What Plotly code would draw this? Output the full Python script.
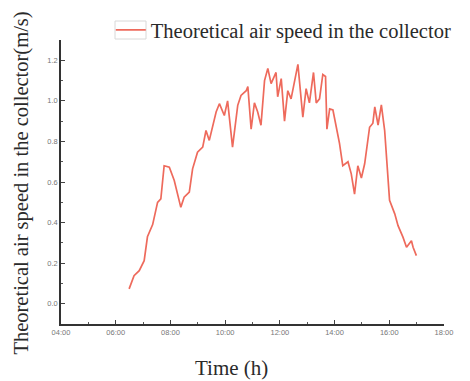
import plotly.graph_objects as go

# Time in hours (decimal) and theoretical air speed (m/s)
time_h = [6.49, 6.67, 6.86, 7.04, 7.16, 7.35, 7.53, 7.65, 7.77, 7.96, 8.14, 8.38, 8.50, 8.69,
          8.81, 8.99, 9.18, 9.30, 9.42, 9.67, 9.79, 9.97, 10.09, 10.27, 10.46, 10.58, 10.77,
          10.83, 10.95, 11.07, 11.19, 11.31, 11.44, 11.56, 11.68, 11.86, 11.92, 12.05, 12.17,
          12.29, 12.41, 12.66, 12.84, 12.96, 13.08, 13.23, 13.33, 13.45, 13.57, 13.67, 13.72,
          13.82, 13.94, 14.06, 14.18, 14.30, 14.49, 14.61, 14.73, 14.85, 14.98, 15.10, 15.28,
          15.40, 15.47, 15.59, 15.71, 15.83, 16.01, 16.20, 16.32, 16.50, 16.63, 16.81, 16.87, 16.99]
speed = [0.073, 0.138, 0.163, 0.212, 0.33, 0.39, 0.50, 0.517, 0.68, 0.673, 0.607, 0.475, 0.525, 0.55,
         0.665, 0.747, 0.772, 0.854, 0.805, 0.945, 0.986, 0.928, 1.0, 0.772, 0.978, 1.027, 1.05,
         1.07, 0.86, 0.99, 0.945, 0.88, 1.10, 1.16, 1.085, 1.14, 1.02, 1.11, 0.90,
         1.05, 1.01, 1.18, 0.92, 1.06, 0.99, 1.14, 0.99, 1.01, 1.13, 1.12, 0.86,
         0.96, 0.955, 0.87, 0.79, 0.68, 0.70, 0.64, 0.54, 0.68, 0.62, 0.69, 0.87,
         0.89, 0.97, 0.88, 0.98, 0.855, 0.51, 0.443, 0.385, 0.328, 0.278, 0.31, 0.278, 0.237]

x_tickvals = [4, 6, 8, 10, 12, 14, 16, 18]
x_ticktext = ["04:00", "06:00", "08:00", "10:00", "12:00", "14:00", "16:00", "18:00"]
y_tickvals = [0.0, 0.2, 0.4, 0.6, 0.8, 1.0, 1.2]
y_ticktext = ["0.0", "0.2", "0.4", "0.6", "0.8", "1.0", "1.2"]

serif = "Liberation Serif, Times New Roman, serif"

fig = go.Figure()
fig.add_trace(go.Scatter(
    x=time_h, y=speed, mode="lines",
    name="Theoretical air speed in the collector",
    line=dict(color="#ee6a5c", width=1.7),
))

axis_common = dict(
    showline=True, linecolor="#333333", linewidth=1.5, mirror=False,
    ticks="inside", ticklen=4, tickwidth=1, tickcolor="#444444",
    showgrid=False, zeroline=False, automargin=False,
    tickfont=dict(family="Liberation Sans, Arial, sans-serif", size=7.5, color="#777777"),
    minor=dict(ticks="inside", ticklen=2, tickwidth=1, tickcolor="#555555"),
)

fig.update_xaxes(range=[4, 18], tickvals=x_tickvals, ticktext=x_ticktext,
                 minor_dtick=1, **axis_common)
fig.update_yaxes(range=[-0.1, 1.3], tickvals=y_tickvals, ticktext=y_ticktext,
                 minor_dtick=0.1, **axis_common)

fig.update_layout(
    width=470, height=381,
    margin=dict(l=61, r=26, t=40, b=57, autoexpand=False),
    paper_bgcolor="white", plot_bgcolor="white",
    showlegend=True,
    legend=dict(x=0.13, y=1.035, xanchor="left", yanchor="middle",
                font=dict(family=serif, size=20.5, color="#2a2a2a"),
                bgcolor="rgba(0,0,0,0)", itemwidth=30),
    shapes=[
        dict(type="rect", xref="paper", yref="paper",
             x0=(115 - 61) / 383, x1=(146 - 61) / 383,
             y0=(324 - 39) / 284, y1=(324 - 21) / 284,
             line=dict(color="#d8d8d8", width=1), fillcolor="rgba(0,0,0,0)"),
    ],
    annotations=[
        dict(text="Theoretical air speed in the collector(m/s)", xref="paper", yref="paper",
             x=-0.104, y=0.495, xanchor="center", yanchor="middle", textangle=-90,
             showarrow=False, font=dict(family=serif, size=20.5, color="#2a2a2a")),
        dict(text="Time (h)", xref="paper", yref="paper", x=0.446, y=-0.155,
             xanchor="center", yanchor="middle", showarrow=False,
             font=dict(family=serif, size=21, color="#2a2a2a")),
    ],
)

fig.write_html("out.html")
